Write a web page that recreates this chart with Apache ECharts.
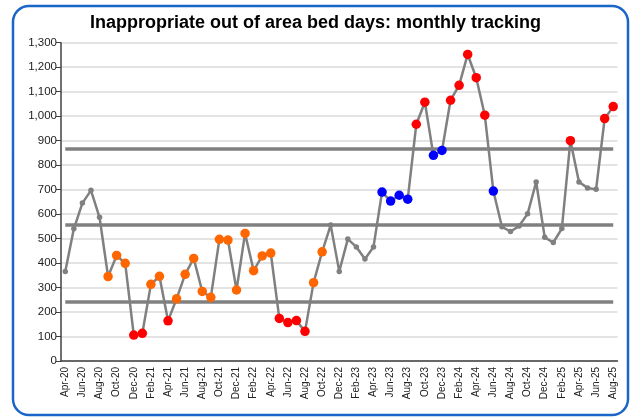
<!DOCTYPE html>
<html>
<head>
<meta charset="utf-8">
<script src="https://cdn.jsdelivr.net/npm/echarts@6/dist/echarts.min.js"></script>
<style>
  html, body { margin: 0; padding: 0; background: #ffffff; }
  #chart { width: 631px; height: 417px; }
</style>
</head>
<body>
<div id="chart"></div>
<script>
// Monthly inappropriate out of area bed days, Apr-20 to Aug-25
const months = [
  'Apr-20','May-20','Jun-20','Jul-20','Aug-20','Sep-20','Oct-20','Nov-20','Dec-20','Jan-21','Feb-21','Mar-21',
  'Apr-21','May-21','Jun-21','Jul-21','Aug-21','Sep-21','Oct-21','Nov-21','Dec-21','Jan-22','Feb-22','Mar-22',
  'Apr-22','May-22','Jun-22','Jul-22','Aug-22','Sep-22','Oct-22','Nov-22','Dec-22','Jan-23','Feb-23','Mar-23',
  'Apr-23','May-23','Jun-23','Jul-23','Aug-23','Sep-23','Oct-23','Nov-23','Dec-23','Jan-24','Feb-24','Mar-24',
  'Apr-24','May-24','Jun-24','Jul-24','Aug-24','Sep-24','Oct-24','Nov-24','Dec-24','Jan-25','Feb-25','Mar-25',
  'Apr-25','May-25','Jun-25','Jul-25','Aug-25'
];

const bedDays = [
  366, 540, 645, 697, 587, 345, 431, 399, 106, 113, 313, 346,
  164, 254, 354, 419, 284, 260, 497, 494, 290, 521, 369, 429,
  441, 174, 157, 165, 121, 320, 446, 555, 366, 498, 466, 417,
  466, 690, 653, 677, 661, 967, 1057, 840, 860, 1065, 1126, 1252,
  1157, 1004, 694, 548, 529, 551, 601, 731, 505, 484, 541, 900,
  731, 707, 701, 990, 1039
];

// Special-cause signal for each month: 'out' = beyond a control limit,
// 'low' = run below the mean, 'high' = run above the mean, '' = none
const signals = [
  '', '', '', '', '', 'low', 'low', 'low', 'out', 'out', 'low', 'low',
  'out', 'low', 'low', 'low', 'low', 'low', 'low', 'low', 'low', 'low', 'low', 'low',
  'low', 'out', 'out', 'out', 'out', 'low', 'low', '', '', '', '', '',
  '', 'high', 'high', 'high', 'high', 'out', 'out', 'high', 'high', 'out', 'out', 'out',
  'out', 'out', 'high', '', '', '', '', '', '', '', '', 'out',
  '', '', '', 'out', 'out'
];

// Control chart centre line and limits
const meanValue = 555;
const upperLimit = 866;
const lowerLimit = 244;

const yTicks = { min: 0, max: 1300, step: 100 };

const signalColours = { out: '#ff0000', low: '#ff6600', high: '#0000ff', '': '#808080' };

const pointData = bedDays.map((v, i) => {
  const s = signals[i];
  return {
    value: v,
    symbolSize: s ? 9.5 : 5.5,
    itemStyle: { color: signalColours[s] }
  };
});

function limitLine(v) {
  return [{ coord: [0, v] }, { coord: [months.length - 1, v] }];
}

const chart = echarts.init(document.getElementById('chart'), null, { renderer: 'canvas' });

chart.setOption({
  backgroundColor: '#ffffff',
  animation: false,
  title: {
    text: 'Inappropriate out of area bed days: monthly tracking',
    left: 'center',
    top: 9,
    textStyle: {
      fontFamily: 'Liberation Sans, Arial, sans-serif',
      fontSize: 18,
      fontWeight: 'bold',
      color: '#000000'
    }
  },
  graphic: [{
    type: 'rect',
    shape: { x: 13, y: 6, width: 615, height: 409, r: 16 },
    style: { fill: 'none', stroke: '#1a66c8', lineWidth: 2.5 },
    silent: true,
    z: 100
  }],
  grid: { left: 61, right: 13.5, top: 42.7, bottom: 56, containLabel: false },
  xAxis: {
    type: 'category',
    data: months,
    boundaryGap: true,
    axisLine: { lineStyle: { color: '#404040', width: 1.5 } },
    axisTick: { interval: 0, alignWithLabel: true, length: 5, lineStyle: { color: '#404040', width: 1 } },
    axisLabel: {
      interval: 1,
      rotate: 90,
      margin: 6,
      fontFamily: 'Liberation Sans, Arial, sans-serif',
      fontSize: 10,
      color: '#222222'
    },
    splitLine: { show: false }
  },
  yAxis: {
    type: 'value',
    min: yTicks.min,
    max: yTicks.max,
    interval: yTicks.step,
    axisLine: { show: true, lineStyle: { color: '#404040', width: 1.5 } },
    axisTick: { show: true, length: 5, lineStyle: { color: '#404040', width: 1 } },
    axisLabel: {
      margin: 4,
      fontFamily: 'Liberation Sans, Arial, sans-serif',
      fontSize: 11.5,
      color: '#222222',
      formatter: v => v.toLocaleString('en-GB')
    },
    splitLine: { show: true, lineStyle: { color: '#dadada', width: 1.5 } }
  },
  series: [{
    type: 'line',
    data: pointData,
    symbol: 'circle',
    showSymbol: true,
    showAllSymbol: true,
    lineStyle: { color: '#808080', width: 2.5 },
    z: 5,
    markLine: {
      silent: true,
      symbol: ['none', 'none'],
      label: { show: false },
      lineStyle: { color: '#808080', width: 3.5, type: 'solid' },
      data: [limitLine(upperLimit), limitLine(meanValue), limitLine(lowerLimit)],
      z: 2
    }
  }]
});
</script>
</body>
</html>
